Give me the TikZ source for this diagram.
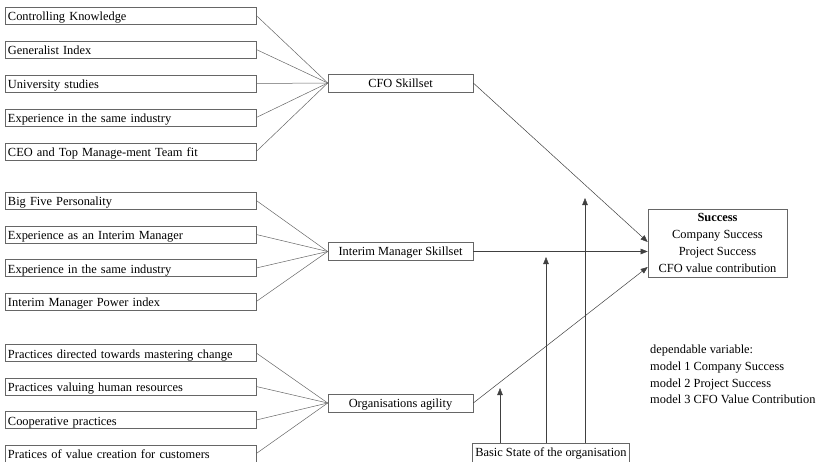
\documentclass[tikz,border=0pt]{standalone}
\usepackage{fontspec}
\setmainfont{Liberation Serif}
\usetikzlibrary{arrows.meta,calc}

\tikzset{
  txt/.style={font=\fontsize{12.4}{16.7}\selectfont, text=black},
  itembox/.style={txt, draw=black!60, line width=0.6pt, minimum width=251pt, minimum height=17pt,
    text width=245pt, align=left, inner xsep=3pt, inner ysep=0pt, anchor=center,
    text height=11pt, text depth=1pt},
  midbox/.style={txt, draw=black!60, line width=0.6pt, minimum width=145pt, minimum height=18pt,
    inner sep=0pt, anchor=center, text height=10pt, text depth=1.5pt},
  link/.style={draw=black!60, line width=0.5pt},
  arr/.style={draw=black!75, line width=0.5pt, -{Triangle[length=7pt,width=5.5pt]}},
}

\begin{document}
\begin{tikzpicture}[x=1pt,y=-1pt]
  \useasboundingbox (0,0) rectangle (824,461);

  % first group: CFO skills
  \node[itembox] (a1) at (130.5,15.5)  {Controlling Knowledge};
  \node[itembox] (a2) at (130.5,49.5)  {Generalist Index};
  \node[itembox] (a3) at (130.5,83.5)  {University studies};
  \node[itembox] (a4) at (130.5,117.5) {Experience in the same industry};
  \node[itembox] (a5) at (130.5,151.5) {CEO and Top Manage-ment Team fit};
  \node[midbox]  (cfo) at (400.5,83)   {CFO Skillset};

  % second group: interim manager skills
  \node[itembox] (b1) at (130.5,200.5) {Big Five Personality};
  \node[itembox] (b2) at (130.5,234.5) {Experience as an Interim Manager};
  \node[itembox] (b3) at (130.5,268)   {Experience in the same industry};
  \node[itembox] (b4) at (130.5,301.5) {Interim Manager Power index};
  \node[midbox]  (ims) at (400.5,251.5) {Interim Manager Skillset};

  % third group: organisational agility
  \node[itembox] (c1) at (130.5,353)   {Practices directed towards mastering change};
  \node[itembox] (c2) at (130.5,386.5) {Practices valuing human resources};
  \node[itembox] (c3) at (130.5,420)   {Cooperative practices};
  \node[itembox] (c4) at (130.5,453.5) {Pratices of value creation for customers};
  \node[midbox]  (org) at (400.5,403)  {Organisations agility};

  % outcome and control variable
  \node[txt, draw=black!60, line width=0.6pt, minimum width=139pt, minimum height=68pt,
        inner sep=0pt, align=center] (succ) at (717.5,243)
        {\textbf{Success}\\Company Success\\Project Success\\CFO value contribution};
  \node[txt, draw=black!60, line width=0.6pt, minimum height=20pt, anchor=west,
        inner xsep=3pt, inner ysep=0pt, text height=9pt, text depth=3pt] (base) at (472,453)
        {Basic State of the organisation};

  \node[txt, align=left, anchor=north west, inner sep=0pt] (dep) at (650,345)
        {dependable variable:\\model 1 Company Success\\model 2 Project Success\\model 3 CFO Value Contribution};

  % indicators to constructs
  \foreach \n in {a1,a2,a3,a4,a5} \draw[link] (\n.east) -- (cfo.west);
  \foreach \n in {b1,b2,b3,b4} \draw[link] (\n.east) -- (ims.west);
  \foreach \n in {c1,c2,c3,c4} \draw[link] (\n.east) -- (org.west);

  % constructs to success
  \coordinate (tCFO) at ($(succ.west)+(0,-1)$);
  \coordinate (tIMS) at (succ.west |- ims.east);
  \coordinate (tORG) at ($(succ.west)+(0,24)$);
  \draw[arr] (cfo.east) -- (tCFO);
  \draw[arr] (ims.east) -- (tIMS);
  \draw[arr] (org.east) -- (tORG);

  % moderating effects of the basic state
  \coordinate (m1) at (500,388);
  \coordinate (m2) at (546,257);
  \coordinate (m3) at (585,198);
  \draw[arr] (base.north -| m1) -- (m1);
  \draw[arr] (base.north -| m2) -- (m2);
  \draw[arr] (base.north -| m3) -- (m3);
\end{tikzpicture}
\end{document}
